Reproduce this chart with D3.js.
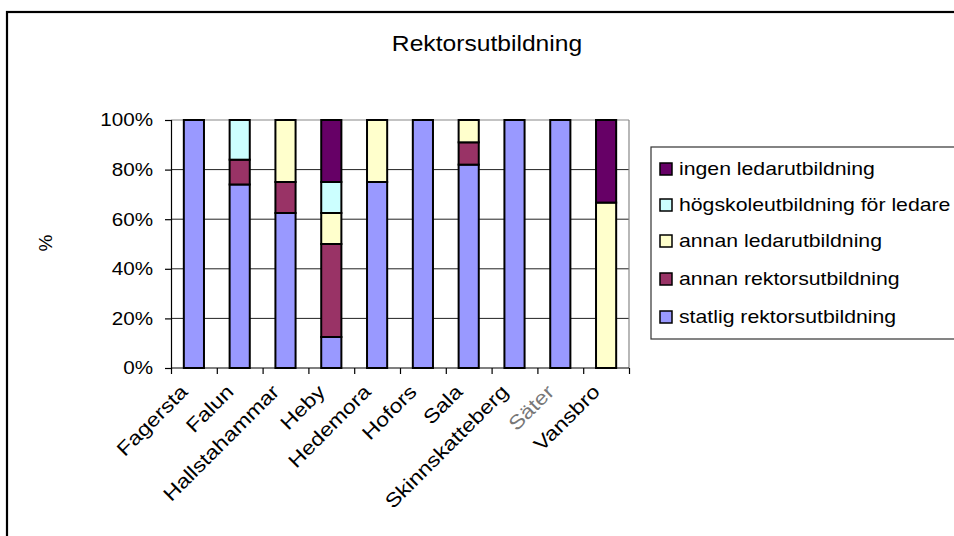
<!DOCTYPE html>
<html>
<head>
<meta charset="utf-8">
<script src="https://cdn.jsdelivr.net/npm/d3@7"></script>
<style>
  html, body { margin: 0; padding: 0; background: #fff; }
  svg { display: block; font-family: "Liberation Sans", Arial, sans-serif; }
</style>
</head>
<body>
<svg id="chart" width="954" height="536"></svg>
<script>
// ---- Data ----
const categories = ["Fagersta", "Falun", "Hallstahammar", "Heby", "Hedemora", "Hofors", "Sala", "Skinnskatteberg", "Säter", "Vansbro"];
const statligRektorsutbildning = [100, 74, 62.5, 12.5, 75, 100, 82, 100, 100, 0];
const annanRektorsutbildning   = [0, 10, 12.5, 37.5, 0, 0, 9, 0, 0, 0];
const annanLedarutbildning     = [0, 0, 25, 12.5, 25, 0, 9, 0, 0, 66.7];
const hogskoleutbildning       = [0, 16, 0, 12.5, 0, 0, 0, 0, 0, 0];
const ingenLedarutbildning     = [0, 0, 0, 25, 0, 0, 0, 0, 0, 33.3];
const seriesNames = ["statlig rektorsutbildning", "annan rektorsutbildning", "annan ledarutbildning", "högskoleutbildning för ledare", "ingen ledarutbildning"];
const seriesColors = ["#9999FF", "#993366", "#FFFFCC", "#CCFFFF", "#660066"];
const yTicks = [0, 20, 40, 60, 80, 100];
const chartTitle = "Rektorsutbildning";
const yTitle = "%";

// ---- Layout ----
const svg = d3.select("#chart");
const SX = 1.18; // horizontal text stretch seen in the reference
const plot = { left: 171, right: 629, top: 120, bottom: 368 };

// chart frame
svg.append("rect")
  .attr("x", 7).attr("y", 12).attr("width", 1000).attr("height", 600)
  .attr("fill", "none").attr("stroke", "#000").attr("stroke-width", 2.2);

function addText(x, y, str, opts = {}) {
  const g = svg.append("g")
    .attr("transform", `translate(${x},${y}) rotate(${opts.rotate || 0}) scale(${opts.sx || SX},1)`);
  return g.append("text")
    .attr("x", 0).attr("y", 0)
    .attr("text-anchor", opts.anchor || "start")
    .attr("dy", opts.dy || "0")
    .attr("font-size", opts.size || 17.5)
    .attr("fill", opts.fill || "#000")
    .text(str);
}

// scales
const x = d3.scaleBand().domain(categories)
  .range([plot.left, plot.right]).paddingInner(0.56).paddingOuter(0.28);
const y = d3.scaleLinear().domain([0, 100]).range([plot.bottom, plot.top]);

// gridlines
svg.append("g").selectAll("line").data(yTicks.filter(d => d > 0 && d < 100)).join("line")
  .attr("x1", plot.left).attr("x2", plot.right)
  .attr("y1", d => y(d)).attr("y2", d => y(d))
  .attr("stroke", "#222").attr("stroke-width", 1);

// plot area border top/right
svg.append("line").attr("x1", plot.left).attr("x2", plot.right).attr("y1", plot.top).attr("y2", plot.top)
  .attr("stroke", "#888").attr("stroke-width", 1.2);
svg.append("line").attr("x1", plot.right).attr("x2", plot.right).attr("y1", plot.top).attr("y2", plot.bottom)
  .attr("stroke", "#888").attr("stroke-width", 1.2);

// stacked data
const table = categories.map((c, i) => ({
  cat: c,
  s0: statligRektorsutbildning[i],
  s1: annanRektorsutbildning[i],
  s2: annanLedarutbildning[i],
  s3: hogskoleutbildning[i],
  s4: ingenLedarutbildning[i]
}));
const stack = d3.stack().keys(["s0", "s1", "s2", "s3", "s4"])(table);

svg.append("g").selectAll("g").data(stack).join("g")
  .attr("fill", (d, i) => seriesColors[i])
  .selectAll("rect").data(d => d.filter(p => p[1] - p[0] > 0)).join("rect")
  .attr("x", d => x(d.data.cat))
  .attr("width", x.bandwidth())
  .attr("y", d => y(d[1]))
  .attr("height", d => y(d[0]) - y(d[1]))
  .attr("stroke", "#000").attr("stroke-width", 2);

// y axis
const yAxis = svg.append("g").attr("transform", `translate(${plot.left},0)`)
  .call(d3.axisLeft(y).tickValues(yTicks).tickSize(6).tickFormat(() => ""));
yAxis.select(".domain").attr("stroke", "#000").attr("stroke-width", 1.2);
yAxis.selectAll(".tick line").attr("stroke", "#000").attr("stroke-width", 1.2);
yTicks.forEach(t => addText(153, y(t), t + "%", { anchor: "end", dy: "0.36em" }));

// x axis (tick marks between categories)
const xAxisScale = d3.scaleLinear().domain([0, categories.length]).range([plot.left, plot.right]);
const xAxis = svg.append("g").attr("transform", `translate(0,${plot.bottom})`)
  .call(d3.axisBottom(xAxisScale).tickValues(d3.range(categories.length + 1)).tickSize(6).tickFormat(() => ""));
xAxis.select(".domain").attr("stroke", "#000").attr("stroke-width", 1.2).attr("d", `M${plot.left},0H${plot.right}`);
xAxis.selectAll(".tick line").attr("stroke", "#000").attr("stroke-width", 1.2);

categories.forEach(c => {
  const cx = x(c) + x.bandwidth() / 2;
  addText(cx - 5, plot.bottom + 25, c, {
    anchor: "end", rotate: -45, size: 19.5,
    fill: c === "Säter" ? "#777" : "#000"
  });
});

// titles
addText(487, 51, chartTitle, { anchor: "middle", size: 22, sx: 1.12 });
addText(52, 243, yTitle, { anchor: "middle", rotate: -90, size: 19, sx: 1 });

// legend
const legend = svg.append("g");
legend.append("rect").attr("x", 651).attr("y", 147).attr("width", 400).attr("height", 192)
  .attr("fill", "#fff").attr("stroke", "#333").attr("stroke-width", 1.2);
const legendOrder = [4, 3, 2, 1, 0];
const legendY = [169, 205, 241, 279, 317];
legendOrder.forEach((si, k) => {
  legend.append("rect")
    .attr("x", 660).attr("y", legendY[k] - 6).attr("width", 12).attr("height", 12)
    .attr("fill", seriesColors[si]).attr("stroke", "#000").attr("stroke-width", 1.5);
  addText(679, legendY[k], seriesNames[si], { dy: "0.36em", size: 18 });
});
</script>
</body>
</html>
